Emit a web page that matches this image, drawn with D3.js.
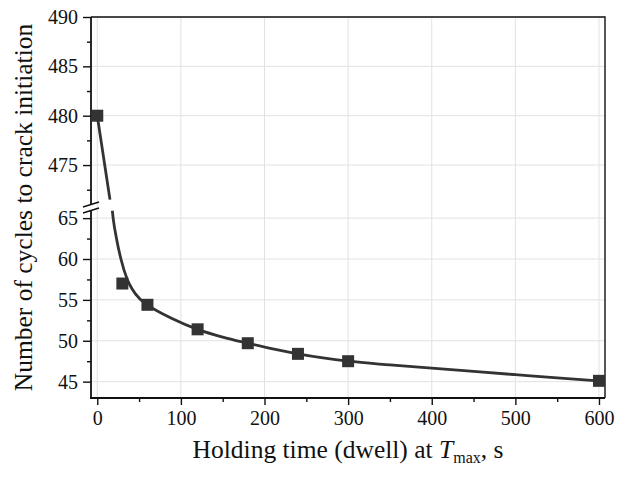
<!DOCTYPE html>
<html>
<head>
<meta charset="utf-8">
<script src="https://cdn.jsdelivr.net/npm/d3@7"></script>
<style>
  body { margin: 0; background: #fff; }
  svg text { font-family: "Liberation Serif", "DejaVu Serif", serif; fill: #111; }
</style>
</head>
<body>
<div class="container"></div>
<script>
const w = 620;
const h = 478;
const serif = '"Liberation Serif", "DejaVu Serif", serif';

// measured points
const holdTime = [0, 30, 60, 120, 180, 240, 300, 600];
const cycles = [480, 57, 54.4, 51.4, 49.7, 48.4, 47.5, 45.1];

// fitted curve (upper part above the break, lower part below it)
const fitUpperX = [0, 5, 10, 15.2];
const fitUpperY = [480, 477.2, 474.4, 471.5];
const fitLowerX = [18, 19.1, 23.2, 28.3, 35.9, 41.9, 51, 60, 90, 120, 150, 180, 210, 240, 270, 300, 350, 400, 450, 500, 550, 600];
const fitLowerY = [65.9, 64.9, 62.4, 60, 57.5, 56.3, 55.1, 54.4, 52.7, 51.4, 50.45, 49.7, 49.0, 48.4, 47.9, 47.5, 47.05, 46.65, 46.25, 45.85, 45.45, 45.1];

const xTicks = [0, 100, 200, 300, 400, 500, 600];
const xMinor = [50, 150, 250, 350, 450, 550];
const yUpperTicks = [475, 480, 485, 490];
const yUpperMinor = [472.5, 477.5, 482.5, 487.5];
const yLowerTicks = [45, 50, 55, 60, 65];
const yLowerMinor = [47.5, 52.5, 57.5, 62.5];

const margin = { top: 17, right: 15, bottom: 80, left: 91 };
const plotRight = w - margin.right;
const plotBottom = h - margin.bottom;
const breakY = 207.5;

const x = d3.scaleLinear().domain([-7.5, 607.2]).range([margin.left, plotRight]);
const yUp = d3.scaleLinear().domain([470.7, 490]).range([breakY, margin.top]);
const yLow = d3.scaleLinear().domain([43, 66.3]).range([plotBottom, breakY]);
const yAny = v => (v > 100 ? yUp(v) : yLow(v));

const svg = d3.select('.container').append('svg')
  .attr('width', w)
  .attr('height', h)
  .attr('font-family', serif);

// grid
const grid = svg.append('g').attr('stroke', '#e2e2e2').attr('stroke-width', 1);
grid.selectAll('.vg').data(xTicks).enter().append('line')
  .attr('x1', d => x(d)).attr('x2', d => x(d))
  .attr('y1', margin.top).attr('y2', plotBottom);
grid.selectAll('.hu').data(yUpperTicks).enter().append('line')
  .attr('x1', margin.left).attr('x2', plotRight)
  .attr('y1', d => yUp(d)).attr('y2', d => yUp(d));
grid.selectAll('.hl').data(yLowerTicks).enter().append('line')
  .attr('x1', margin.left).attr('x2', plotRight)
  .attr('y1', d => yLow(d)).attr('y2', d => yLow(d));

// frame top / right
svg.append('path')
  .attr('d', `M${margin.left},${margin.top}H${plotRight}V${plotBottom}`)
  .attr('fill', 'none').attr('stroke', '#111').attr('stroke-width', 1.4);

// axes
function styleAxis(g) {
  g.attr('font-family', serif).attr('font-size', 20);
  g.select('.domain').remove();
  g.selectAll('line').attr('stroke', '#111').attr('stroke-width', 1.4);
  g.selectAll('text').attr('fill', '#111').attr('font-family', serif);
}

const xAxis = svg.append('g').attr('transform', `translate(0,${plotBottom})`)
  .call(d3.axisBottom(x).tickValues(xTicks).tickSize(7).tickPadding(6).tickFormat(d3.format('d')));
styleAxis(xAxis);
const xAxisMinor = svg.append('g').attr('transform', `translate(0,${plotBottom})`)
  .call(d3.axisBottom(x).tickValues(xMinor).tickSize(4).tickFormat(''));
styleAxis(xAxisMinor);

[[yUp, yUpperTicks, yUpperMinor], [yLow, yLowerTicks, yLowerMinor]].forEach(([sc, major, minor]) => {
  const a = svg.append('g').attr('transform', `translate(${margin.left},0)`)
    .call(d3.axisLeft(sc).tickValues(major).tickSize(8).tickPadding(5).tickFormat(d3.format('d')));
  styleAxis(a);
  const m = svg.append('g').attr('transform', `translate(${margin.left},0)`)
    .call(d3.axisLeft(sc).tickValues(minor).tickSize(4).tickFormat(''));
  styleAxis(m);
});

// axis lines with break gap
svg.append('line')
  .attr('x1', margin.left).attr('x2', margin.left)
  .attr('y1', margin.top).attr('y2', breakY - 3)
  .attr('stroke', '#111').attr('stroke-width', 1.8);
svg.append('line')
  .attr('x1', margin.left).attr('x2', margin.left)
  .attr('y1', breakY + 3).attr('y2', plotBottom + 0.7)
  .attr('stroke', '#111').attr('stroke-width', 1.8);
svg.append('line')
  .attr('x1', margin.left - 0.9).attr('x2', plotRight)
  .attr('y1', plotBottom).attr('y2', plotBottom)
  .attr('stroke', '#111').attr('stroke-width', 1.8);

// break marks
[-3, 3].forEach(off => {
  svg.append('line')
    .attr('x1', margin.left - 8).attr('y1', breakY + off + 2.5)
    .attr('x2', margin.left + 8).attr('y2', breakY + off - 2.5)
    .attr('stroke', '#111').attr('stroke-width', 1.4);
});

// fitted curve
const line = d3.line().x(d => x(d[0])).y(d => yAny(d[1]));
svg.append('path')
  .datum(fitUpperX.map((v, i) => [v, fitUpperY[i]]))
  .attr('d', line.curve(d3.curveLinear))
  .attr('fill', 'none').attr('stroke', '#333').attr('stroke-width', 2.8);
svg.append('path')
  .datum(fitLowerX.map((v, i) => [v, fitLowerY[i]]))
  .attr('d', line.curve(d3.curveMonotoneX))
  .attr('fill', 'none').attr('stroke', '#333').attr('stroke-width', 2.8);

// markers
const sz = 12;
svg.selectAll('.pt').data(holdTime.map((v, i) => [v, cycles[i]])).enter().append('rect')
  .attr('x', d => x(d[0]) - sz / 2)
  .attr('y', d => yAny(d[1]) - sz / 2)
  .attr('width', sz).attr('height', sz)
  .attr('fill', '#333');

// titles
const xt = svg.append('text')
  .attr('x', (margin.left + plotRight) / 2)
  .attr('y', 458)
  .attr('text-anchor', 'middle')
  .attr('font-family', serif)
  .attr('font-size', 25.5);
xt.append('tspan').text('Holding time (dwell) at ');
xt.append('tspan').attr('font-style', 'italic').text('T');
xt.append('tspan').attr('font-size', 16).attr('dy', 5).text('max');
xt.append('tspan').attr('dy', -5).text(', s');

svg.append('text')
  .attr('transform', 'rotate(-90)')
  .attr('x', -(margin.top + plotBottom) / 2)
  .attr('y', 32)
  .attr('text-anchor', 'middle')
  .attr('font-family', serif)
  .attr('font-size', 25.5)
  .text('Number of cycles to crack initiation');
</script>
</body>
</html>
